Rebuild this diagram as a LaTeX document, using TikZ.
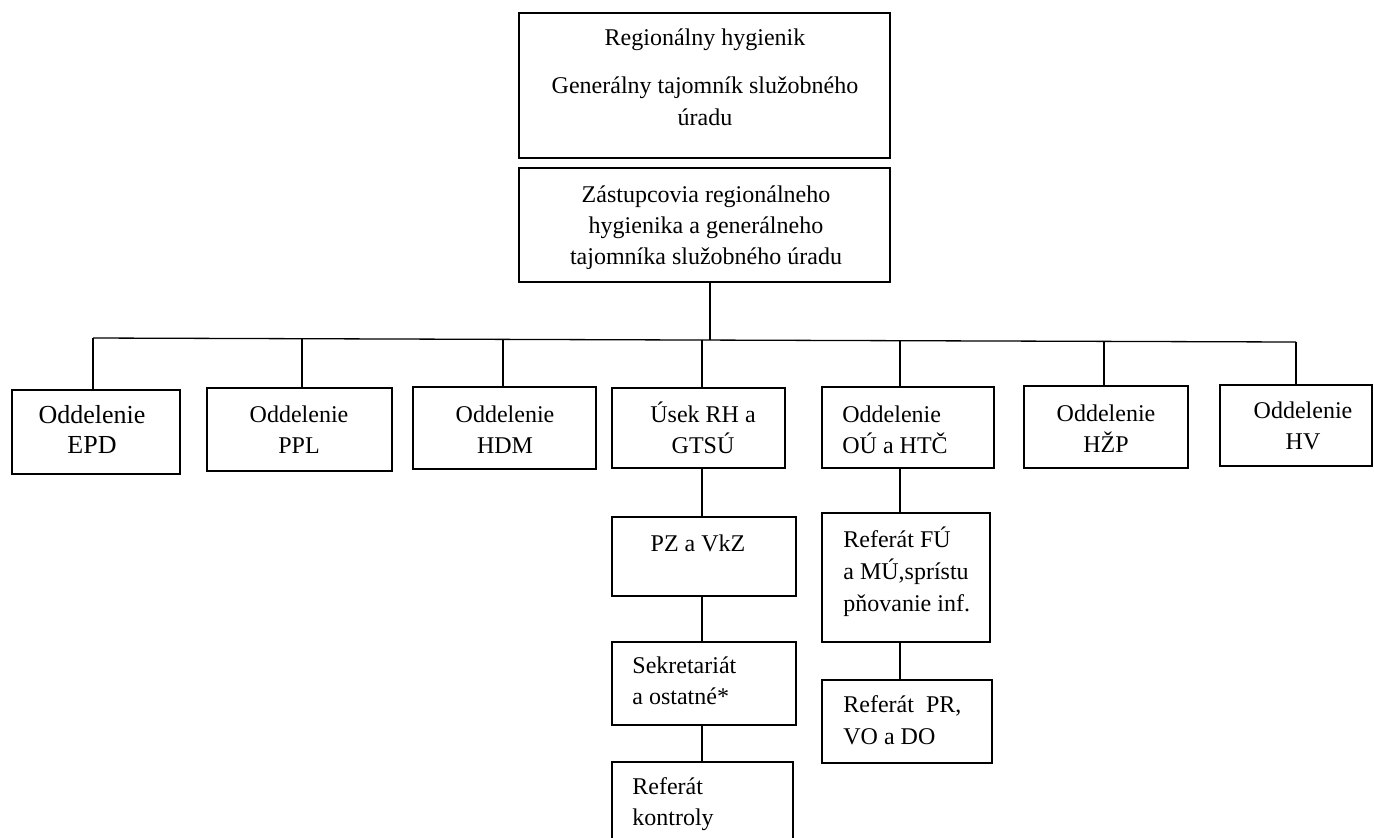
\documentclass[tikz,border=0pt]{standalone}
\usepackage{fontspec}
\setmainfont{Liberation Serif}
\usetikzlibrary{fit}
\begin{document}
\begin{tikzpicture}[x=0.5pt,y=-0.5pt,
  box/.style={draw=black, line width=0.65pt, inner sep=0pt},
  txt/.style={inner sep=0pt, font=\fontsize{12}{15.5}\selectfont},
  ctxt/.style={txt, anchor=north, align=center},
  ltxt/.style={txt, anchor=north west, align=left},
  conn/.style={draw=black, line width=0.65pt}]
\useasboundingbox (0,0) rectangle (1374,837);
% boxes
\node[box, fit={(519,13) (890,158)}] (rh) {};
\node[box, fit={(519,168) (890,282)}] (zast) {};
\node[box, fit={(12,390) (180,474)}] (epd) {};
\node[box, fit={(207,388) (392,471)}] (ppl) {};
\node[box, fit={(413,387) (596,469)}] (hdm) {};
\node[box, fit={(612,388) (785,468)}] (usek) {};
\node[box, fit={(822,387) (994,468)}] (ou) {};
\node[box, fit={(1024,386) (1188,468)}] (hzp) {};
\node[box, fit={(1220,385) (1372,466)}] (hv) {};
\node[box, fit={(612,517) (796,596)}] (pz) {};
\node[box, fit={(612,642) (796,725)}] (sek) {};
\node[box, fit={(612,762) (793,850)}] (kon) {};
\node[box, fit={(822,513) (990,642)}] (fu) {};
\node[box, fit={(822,680) (992,763)}] (pr) {};
% texts
\node[ctxt] (trh1) at (705,23.3) {\strut Regionálny hygienik};
\node[ctxt, font=\fontsize{12}{16}\selectfont] (trh2) at (705,70.6) {\strut Generálny tajomník služobného\\\strut úradu};
\node[ctxt] (tzast) at (706,180.3) {\strut Zástupcovia regionálneho\\\strut hygienika a generálneho\\\strut tajomníka služobného úradu};
\node[ctxt, font=\fontsize{13}{15}\selectfont] (tepd) at (92,402) {\strut Oddelenie\\\strut EPD};
\node[ctxt] (tppl) at (299,400.5) {\strut Oddelenie\\\strut PPL};
\node[ctxt] (thdm) at (505,400.3) {\strut Oddelenie\\\strut HDM};
\node[ctxt] (tusek) at (703,400.8) {\strut Úsek RH a\\\strut GTSÚ};
\node[ltxt] (tou) at (842,400.3) {\strut Oddelenie\\\strut OÚ a HTČ};
\node[ctxt] (thzp) at (1106,399.3) {\strut Oddelenie\\\strut HŽP};
\node[ctxt] (thv) at (1303,396.3) {\strut Oddelenie\\\strut HV};
\node[ctxt] (tpz) at (698,529.3) {\strut PZ a VkZ};
\node[ltxt] (tsek) at (632,651.3) {\strut Sekretariát\\\strut a ostatné*};
\node[ltxt] (tkon) at (632,772.3) {\strut Referát\\\strut kontroly};
\node[ltxt, font=\fontsize{12}{16}\selectfont] (tfu) at (843,524.6) {\strut Referát FÚ\\\strut a MÚ,sprístu\\\strut pňovanie inf.};
\node[ltxt, font=\fontsize{12}{16}\selectfont] (tpr) at (843,689.6) {\strut Referát\ \ PR,\\\strut VO a DO};
% connectors
\coordinate (barL) at (93,338);
\coordinate (barR) at (1296,342);
\coordinate (barC) at (710,340);
\coordinate (d2) at (302,339);
\coordinate (d3) at (503,339);
\coordinate (d4) at (702,340);
\coordinate (d5) at (900,341);
\coordinate (d6) at (1104,341.5);
\draw[conn] (zast.south -| barC) -- (barC);
\draw[conn] (barL) -- (barR);
\draw[conn] (barL) -- (barL |- epd.north);
\draw[conn] (d2) -- (d2 |- ppl.north);
\draw[conn] (d3) -- (d3 |- hdm.north);
\draw[conn] (d4) -- (d4 |- usek.north);
\draw[conn] (d5) -- (d5 |- ou.north);
\draw[conn] (d6) -- (d6 |- hzp.north);
\draw[conn] (barR) -- (barR |- hv.north);
\draw[conn] (usek.south -| d4) -- (pz.north -| d4);
\draw[conn] (pz.south -| d4) -- (sek.north -| d4);
\draw[conn] (sek.south -| d4) -- (kon.north -| d4);
\draw[conn] (ou.south -| d5) -- (fu.north -| d5);
\draw[conn] (fu.south -| d5) -- (pr.north -| d5);
\end{tikzpicture}
\end{document}
